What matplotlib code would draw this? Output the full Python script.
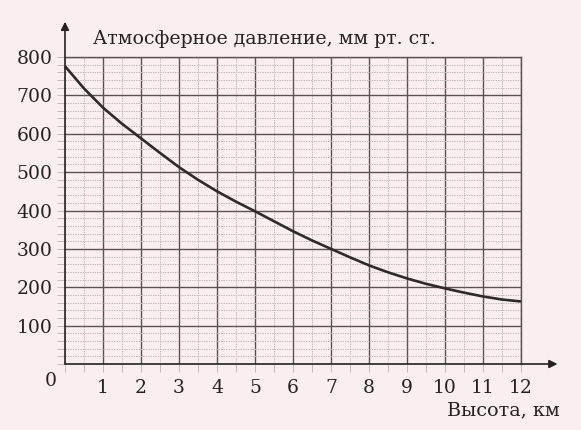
import matplotlib
matplotlib.use('Agg')
import matplotlib.pyplot as plt
from matplotlib.ticker import MultipleLocator

# values (height, km -> pressure, mm Hg)
height_km = [0, 0.5, 1, 1.5, 2, 2.5, 3, 3.5, 4, 4.5, 5, 5.5, 6,
             6.5, 7, 7.5, 8, 8.5, 9, 9.5, 10, 10.5, 11, 11.5, 12]
pressure = [776, 718, 668, 626, 588, 550, 513, 480, 450, 423, 398, 372, 346,
            322, 300, 278, 257, 239, 223, 209, 197, 186, 176, 168, 163]

x_ticks = list(range(1, 13))
y_ticks = list(range(100, 801, 100))
title = 'Атмосферное давление, мм рт. ст.'
x_label = 'Высота, км'

paper = '#f8efee'
major_col = '#5a5250'
minor_col = '#c4bbbb'
text_col = '#262222'

plt.rcParams['font.family'] = ['DejaVu Serif']

fig = plt.figure(figsize=(5.81, 4.30), dpi=100, facecolor=paper)
ax = fig.add_axes([65 / 581, 1 - 364 / 430, 456 / 581, 307 / 430])
ax.set_facecolor(paper)

ax.set_xlim(0, 12)
ax.set_ylim(0, 800)
ax.xaxis.set_major_locator(MultipleLocator(1))
ax.xaxis.set_minor_locator(MultipleLocator(0.5))
ax.yaxis.set_major_locator(MultipleLocator(100))
ax.yaxis.set_minor_locator(MultipleLocator(20))

ax.grid(which='major', color=major_col, linewidth=1.0)
ax.grid(which='minor', color=minor_col, linewidth=0.7, linestyle=(0, (1.5, 1)))
ax.set_axisbelow(True)

ax.tick_params(which='both', direction='out', length=6, width=0.7,
               color=minor_col, labelsize=13.5, labelcolor=text_col)
ax.tick_params(axis='y', which='major', pad=3)
ax.tick_params(axis='x', which='major', pad=5)
ax.set_xticks(x_ticks)
ax.set_yticks(y_ticks)

for side in ['top', 'right']:
    ax.spines[side].set_color(major_col)
    ax.spines[side].set_linewidth(1.0)
for side in ['left', 'bottom']:
    ax.spines[side].set_visible(False)

ax.plot(height_km, pressure, color='#2f2b2b', linewidth=1.9,
        solid_capstyle='butt', solid_joinstyle='round', clip_on=False, zorder=3)

# axes arrows
ax.annotate('', xy=(0, 1.115), xytext=(0, 0), xycoords='axes fraction',
            arrowprops=dict(arrowstyle='-|>', color=text_col, lw=1.2,
                            mutation_scale=12, shrinkA=0, shrinkB=0))
ax.annotate('', xy=(1.08, 0), xytext=(0, 0), xycoords='axes fraction',
            arrowprops=dict(arrowstyle='-|>', color=text_col, lw=1.2,
                            mutation_scale=12, shrinkA=0, shrinkB=0))

ax.text(-0.017, -0.055, '0', transform=ax.transAxes, ha='right', va='center',
        fontsize=13.5, color=text_col)
ax.text(0.062, 1.06, title, transform=ax.transAxes, ha='left', va='center',
        fontsize=13.6, color=text_col)
ax.text(1.085, -0.15, x_label, transform=ax.transAxes, ha='right', va='center',
        fontsize=13.8, color=text_col)

fig.savefig('out.png', dpi=100, facecolor=paper)
